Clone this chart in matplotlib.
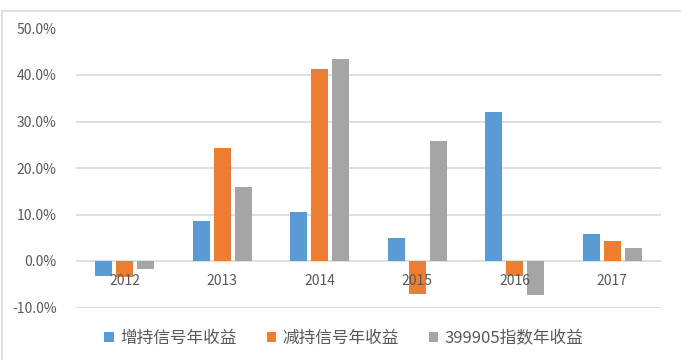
import numpy as np
import matplotlib.pyplot as plt
from matplotlib.patches import Rectangle

plt.rcParams['font.family'] = ['Noto Sans CJK SC', 'DejaVu Sans']

# data (annual returns, %)
years = ['2012', '2013', '2014', '2015', '2016', '2017']
increase_signal = [-3.2, 8.5, 10.6, 5.0, 32.0, 5.9]
decrease_signal = [-3.4, 24.4, 41.2, -7.0, -3.2, 4.3]
index_399905 = [-1.7, 15.9, 43.4, 25.7, -7.3, 2.7]
series_names = ['增持信号年收益', '减持信号年收益', '399905指数年收益']
colors = ['#5B9BD5', '#ED7D31', '#A5A5A5']

fig = plt.figure(figsize=(6.81, 3.6), dpi=100)
ax = fig.add_axes([76/681, 1-307.5/360, (661-76)/681, (307.5-28.5)/360])

x = np.arange(len(years))
w = 0.175
step = 0.215
for i, (vals, name, c) in enumerate(zip([increase_signal, decrease_signal, index_399905],
                                        series_names, colors)):
    ax.bar(x + (i-1)*step, vals, width=w, color=c, label=name, zorder=2)

ax.set_xlim(-0.5, len(years)-0.5)
ax.set_ylim(-10, 50)
ax.set_yticks(np.arange(-10, 51, 10))
ax.set_yticklabels(['%.1f%%' % v for v in np.arange(-10, 51, 10)])
ax.tick_params(axis='y', length=0, pad=14, labelsize=10, labelcolor='#595959')
ax.set_xticks([])
ax.grid(axis='y', color='#D9D9D9', linewidth=1.2, zorder=0)
for s in ax.spines.values():
    s.set_visible(False)

# category labels sit just under the zero line
for xi, lab in zip(x, years):
    ax.annotate(lab, (xi, 0), xytext=(0, -13), textcoords='offset pixels',
                ha='center', va='top', fontsize=10, color='#595959', zorder=5)

leg = fig.legend(loc='center', bbox_to_anchor=(344/681, 1-338/360), ncol=3,
                 frameon=False, fontsize=12, handlelength=0.55, handleheight=0.55,
                 handletextpad=0.4, columnspacing=1.8)
for t in leg.get_texts():
    t.set_color('#595959')

# outer chart border
fig.patches.append(Rectangle((1.5/681, -0.1), 1.2, 1-10.5/360+0.1, transform=fig.transFigure,
                             fill=False, edgecolor='#D9D9D9', linewidth=1.2))

fig.savefig('out.png', dpi=100)
